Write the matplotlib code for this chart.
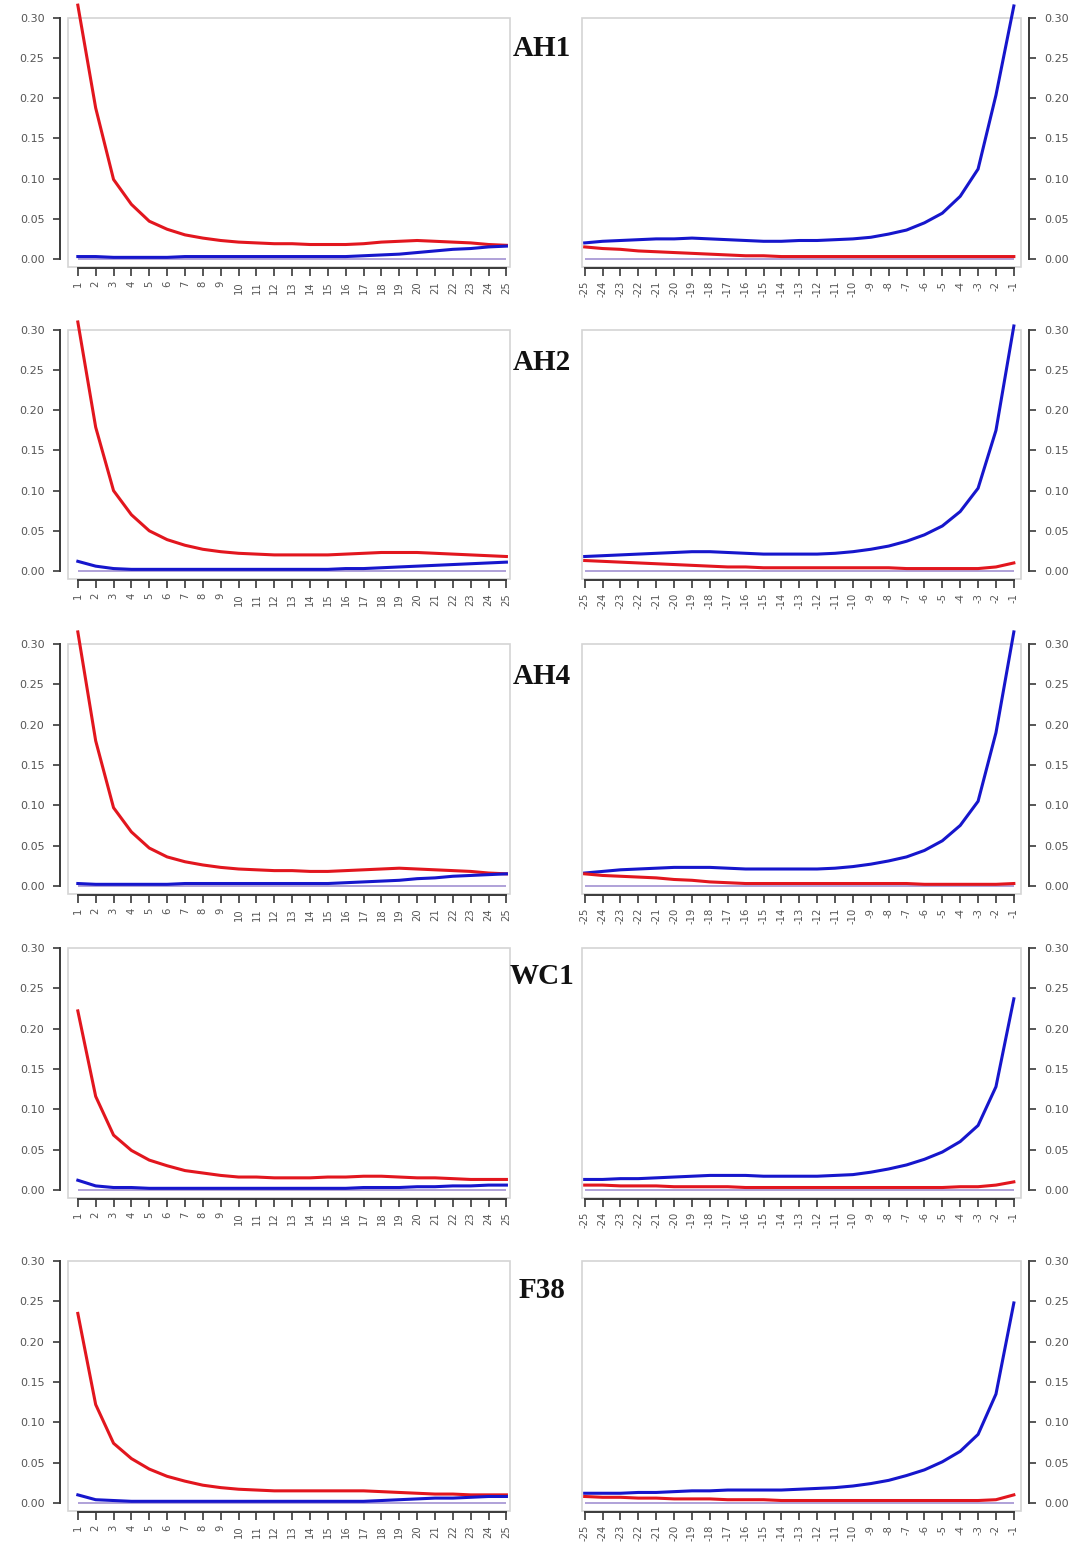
import numpy as np
import matplotlib.pyplot as plt
from matplotlib.patches import Rectangle

# lags after (left) and before (right)
lag_after = list(range(1, 26))
lag_before = list(range(-25, 0))

names = ["AH1", "AH2", "AH4", "WC1", "F38"]

# left panels: red decays from lag 1, blue stays low
ah1_red_l = [0.316, 0.188, 0.099, 0.068, 0.047, 0.037, 0.030, 0.026, 0.023, 0.021, 0.020, 0.019, 0.019,
             0.018, 0.018, 0.018, 0.019, 0.021, 0.022, 0.023, 0.022, 0.021, 0.020, 0.018, 0.017]
ah1_blu_l = [0.003, 0.003, 0.002, 0.002, 0.002, 0.002, 0.003, 0.003, 0.003, 0.003, 0.003, 0.003, 0.003,
             0.003, 0.003, 0.003, 0.004, 0.005, 0.006, 0.008, 0.010, 0.012, 0.013, 0.015, 0.016]
ah2_red_l = [0.310, 0.179, 0.100, 0.070, 0.050, 0.039, 0.032, 0.027, 0.024, 0.022, 0.021, 0.020, 0.020,
             0.020, 0.020, 0.021, 0.022, 0.023, 0.023, 0.023, 0.022, 0.021, 0.020, 0.019, 0.018]
ah2_blu_l = [0.012, 0.006, 0.003, 0.002, 0.002, 0.002, 0.002, 0.002, 0.002, 0.002, 0.002, 0.002, 0.002,
             0.002, 0.002, 0.003, 0.003, 0.004, 0.005, 0.006, 0.007, 0.008, 0.009, 0.010, 0.011]
ah4_red_l = [0.315, 0.180, 0.097, 0.067, 0.047, 0.036, 0.030, 0.026, 0.023, 0.021, 0.020, 0.019, 0.019,
             0.018, 0.018, 0.019, 0.020, 0.021, 0.022, 0.021, 0.020, 0.019, 0.018, 0.016, 0.015]
ah4_blu_l = [0.003, 0.002, 0.002, 0.002, 0.002, 0.002, 0.003, 0.003, 0.003, 0.003, 0.003, 0.003, 0.003,
             0.003, 0.003, 0.004, 0.005, 0.006, 0.007, 0.009, 0.010, 0.012, 0.013, 0.014, 0.015]
wc1_red_l = [0.222, 0.116, 0.068, 0.049, 0.037, 0.030, 0.024, 0.021, 0.018, 0.016, 0.016, 0.015, 0.015,
             0.015, 0.016, 0.016, 0.017, 0.017, 0.016, 0.015, 0.015, 0.014, 0.013, 0.013, 0.013]
wc1_blu_l = [0.012, 0.005, 0.003, 0.003, 0.002, 0.002, 0.002, 0.002, 0.002, 0.002, 0.002, 0.002, 0.002,
             0.002, 0.002, 0.002, 0.003, 0.003, 0.003, 0.004, 0.004, 0.005, 0.005, 0.006, 0.006]
f38_red_l = [0.235, 0.122, 0.074, 0.055, 0.042, 0.033, 0.027, 0.022, 0.019, 0.017, 0.016, 0.015, 0.015,
             0.015, 0.015, 0.015, 0.015, 0.014, 0.013, 0.012, 0.011, 0.011, 0.010, 0.010, 0.010]
f38_blu_l = [0.010, 0.004, 0.003, 0.002, 0.002, 0.002, 0.002, 0.002, 0.002, 0.002, 0.002, 0.002, 0.002,
             0.002, 0.002, 0.002, 0.002, 0.003, 0.004, 0.005, 0.006, 0.006, 0.007, 0.008, 0.008]

# right panels: blue rises towards lag -1, red stays low
ah1_red_r = [0.015, 0.013, 0.012, 0.010, 0.009, 0.008, 0.007, 0.006, 0.005, 0.004, 0.004, 0.003, 0.003,
             0.003, 0.003, 0.003, 0.003, 0.003, 0.003, 0.003, 0.003, 0.003, 0.003, 0.003, 0.003]
ah1_blu_r = [0.020, 0.022, 0.023, 0.024, 0.025, 0.025, 0.026, 0.025, 0.024, 0.023, 0.022, 0.022, 0.023,
             0.023, 0.024, 0.025, 0.027, 0.031, 0.036, 0.045, 0.057, 0.078, 0.112, 0.204, 0.315]
ah2_red_r = [0.013, 0.012, 0.011, 0.010, 0.009, 0.008, 0.007, 0.006, 0.005, 0.005, 0.004, 0.004, 0.004,
             0.004, 0.004, 0.004, 0.004, 0.004, 0.003, 0.003, 0.003, 0.003, 0.003, 0.005, 0.010]
ah2_blu_r = [0.018, 0.019, 0.020, 0.021, 0.022, 0.023, 0.024, 0.024, 0.023, 0.022, 0.021, 0.021, 0.021,
             0.021, 0.022, 0.024, 0.027, 0.031, 0.037, 0.045, 0.056, 0.074, 0.103, 0.175, 0.305]
ah4_red_r = [0.015, 0.013, 0.012, 0.011, 0.010, 0.008, 0.007, 0.005, 0.004, 0.003, 0.003, 0.003, 0.003,
             0.003, 0.003, 0.003, 0.003, 0.003, 0.003, 0.002, 0.002, 0.002, 0.002, 0.002, 0.003]
ah4_blu_r = [0.016, 0.018, 0.020, 0.021, 0.022, 0.023, 0.023, 0.023, 0.022, 0.021, 0.021, 0.021, 0.021,
             0.021, 0.022, 0.024, 0.027, 0.031, 0.036, 0.044, 0.056, 0.075, 0.105, 0.190, 0.315]
wc1_red_r = [0.006, 0.006, 0.005, 0.005, 0.005, 0.004, 0.004, 0.004, 0.004, 0.003, 0.003, 0.003, 0.003,
             0.003, 0.003, 0.003, 0.003, 0.003, 0.003, 0.003, 0.003, 0.004, 0.004, 0.006, 0.010]
wc1_blu_r = [0.013, 0.013, 0.014, 0.014, 0.015, 0.016, 0.017, 0.018, 0.018, 0.018, 0.017, 0.017, 0.017,
             0.017, 0.018, 0.019, 0.022, 0.026, 0.031, 0.038, 0.047, 0.060, 0.080, 0.128, 0.237]
f38_red_r = [0.008, 0.007, 0.007, 0.006, 0.006, 0.005, 0.005, 0.005, 0.004, 0.004, 0.004, 0.003, 0.003,
             0.003, 0.003, 0.003, 0.003, 0.003, 0.003, 0.003, 0.003, 0.003, 0.003, 0.004, 0.010]
f38_blu_r = [0.012, 0.012, 0.012, 0.013, 0.013, 0.014, 0.015, 0.015, 0.016, 0.016, 0.016, 0.016, 0.017,
             0.018, 0.019, 0.021, 0.024, 0.028, 0.034, 0.041, 0.051, 0.064, 0.085, 0.135, 0.248]

left_red = [ah1_red_l, ah2_red_l, ah4_red_l, wc1_red_l, f38_red_l]
left_blu = [ah1_blu_l, ah2_blu_l, ah4_blu_l, wc1_blu_l, f38_blu_l]
right_red = [ah1_red_r, ah2_red_r, ah4_red_r, wc1_red_r, f38_red_r]
right_blu = [ah1_blu_r, ah2_blu_r, ah4_blu_r, wc1_blu_r, f38_blu_r]

yticks = [0.00, 0.05, 0.10, 0.15, 0.20, 0.25, 0.30]

W, H = 1086, 1558
# pixel rows: (top of box = 0.30, bottom of box)
rows_px = [(18, 267), (330, 579), (644, 894), (948, 1198), (1261, 1511)]
title_y = [48, 362, 676, 977, 1291]

RED = '#e2161e'
BLUE = '#1616cc'
ZERO = '#a99ad6'
AXC = '#3a3a3a'
TXT = '#555555'

fig = plt.figure(figsize=(W / 100, H / 100), dpi=100)


def style(ax, side):
    ax.set_ylim(-0.010, 0.30)
    for s in ['top', 'right', 'left', 'bottom']:
        ax.spines[s].set_visible(False)
    ax.add_patch(Rectangle((0, 0), 1, 1, transform=ax.transAxes, fill=False,
                           edgecolor='#d4d4d4', lw=1.2, clip_on=False, zorder=0))
    ax.spines[side].set_visible(True)
    ax.spines[side].set_position(('outward', 6))
    ax.spines[side].set_bounds(0, 0.30)
    ax.spines[side].set_color(AXC)
    ax.spines[side].set_linewidth(1.4)
    ax.spines['bottom'].set_visible(True)
    ax.spines['bottom'].set_position(('outward', 1))
    ax.spines['bottom'].set_color(AXC)
    ax.spines['bottom'].set_linewidth(1.4)
    ax.set_yticks(yticks)
    ax.set_yticklabels(['%.2f' % v for v in yticks])
    if side == 'right':
        ax.yaxis.tick_right()
    ax.tick_params(axis='y', length=5, width=1.2, color=AXC, labelsize=8,
                   labelcolor=TXT, pad=6)
    ax.tick_params(axis='x', length=6, width=1.2, color=AXC, labelsize=7.2,
                   labelcolor=TXT, pad=3, labelrotation=90)


for i in range(5):
    top, bot = rows_px[i]
    b = 1 - bot / H
    h = (bot - top) / H

    axl = fig.add_axes([68 / W, b, (510 - 68) / W, h])
    style(axl, 'left')
    axl.set_xlim(0.45, 25.2)
    axl.hlines(0, lag_after[0], lag_after[-1], color=ZERO, lw=1.3, zorder=1)
    axl.plot(lag_after, left_red[i], color=RED, lw=2.2, clip_on=False, zorder=3)
    axl.plot(lag_after, left_blu[i], color=BLUE, lw=2.2, clip_on=False, zorder=4)
    axl.set_xticks(lag_after)
    axl.spines['bottom'].set_bounds(lag_after[0], lag_after[-1])
    axl.set_xticklabels([str(v) for v in lag_after])

    axr = fig.add_axes([582 / W, b, (1021 - 582) / W, h])
    style(axr, 'right')
    axr.set_xlim(-25.15, -0.6)
    axr.hlines(0, lag_before[0], lag_before[-1], color=ZERO, lw=1.3, zorder=1)
    axr.plot(lag_before, right_red[i], color=RED, lw=2.2, clip_on=False, zorder=4)
    axr.plot(lag_before, right_blu[i], color=BLUE, lw=2.2, clip_on=False, zorder=3)
    axr.set_xticks(lag_before)
    axr.spines['bottom'].set_bounds(lag_before[0], lag_before[-1])
    axr.set_xticklabels([str(v) for v in lag_before])

    fig.text(542 / W, 1 - title_y[i] / H, names[i], ha='center', va='center',
             fontsize=21, fontweight='bold', family='Liberation Serif', color='#111111')

fig.savefig('out.png', dpi=100)
